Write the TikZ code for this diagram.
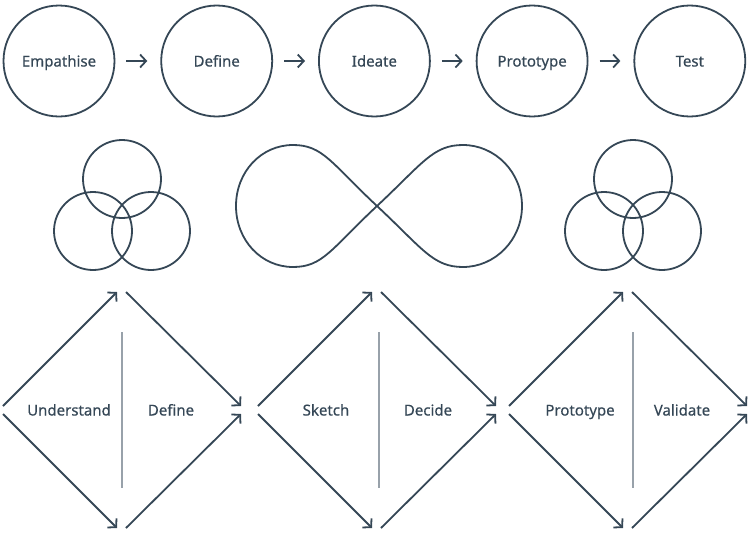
\documentclass[tikz,border=0pt]{standalone}
\usepackage{fontspec}
\setmainfont{Noto Sans}[FakeBold=0.4]
\usetikzlibrary{arrows.meta,positioning}
\definecolor{ink}{RGB}{53,71,86}
\definecolor{divider}{RGB}{152,161,170}
\tikzset{
    stage/.style={
           circle,
           draw=ink,
           line width=1.8pt,
           minimum size=111pt,
           inner sep=0pt,
           text=ink,
           text height=11pt,
           text depth=0pt,
           font=\fontsize{15}{18}\selectfont,
           },
    flow/.style={
           ->,
           draw=ink,
           line width=1.8pt,
           },
    outline/.style={
           draw=ink,
           line width=1.8pt,
           },
    phase/.style={
           text=ink,
           text height=11pt,
           text depth=0pt,
           inner sep=0pt,
           font=\fontsize{15}{18}\selectfont,
           },
}

\begin{document}
\begin{tikzpicture}[x=1pt,y=-1pt,>={Straight Barb[length=6pt,width=13pt]}]
\useasboundingbox (0,0) rectangle (750,533);
% five stages
\node[stage](empathise) at (59,61){Empathise};
\node[stage,right of=empathise,node distance=157.7pt](define){Define};
\node[stage,right of=define,node distance=157.7pt](ideate){Ideate};
\node[stage,right of=ideate,node distance=157.7pt](prototype){Prototype};
\node[stage,right of=prototype,node distance=157.7pt](test){Test};
\path (empathise) edge[flow,shorten <=11pt,shorten >=13pt] (define)
      (define) edge[flow,shorten <=11pt,shorten >=13pt] (ideate)
      (ideate) edge[flow,shorten <=11pt,shorten >=13pt] (prototype)
      (prototype) edge[flow,shorten <=11pt,shorten >=13pt] (test);
% venn triples
\foreach \vx in {122,633}{
  \draw[outline] (\vx,179) circle (39pt);
  \draw[outline] (\vx-29,231) circle (39pt);
  \draw[outline] (\vx+29,231) circle (39pt);
}
% infinity loop
\coordinate (mid) at (377,206);
\draw[outline] (mid) .. controls +(46,-43) and +(-30,0) .. (463,145)
      .. controls +(32,0) and +(0,-34) .. (522,206)
      .. controls +(0,34) and +(32,0) .. (463,267)
      .. controls +(-30,0) and +(46,43) .. (mid)
      .. controls +(-46,-43) and +(30,0) .. (293,145)
      .. controls +(-32,0) and +(0,-34) .. (236,206)
      .. controls +(0,34) and +(-32,0) .. (293,267)
      .. controls +(30,0) and +(-46,43) .. (mid);
% double diamonds
\foreach \cx/\vx/\a/\b [count=\i] in {122/122/Understand/Define,377/379/Sketch/Decide,628/633/Prototype/Validate}{
  \coordinate (left\i) at (\cx-120,410);
  \coordinate (top\i) at (\cx,292);
  \coordinate (right\i) at (\cx+120,410);
  \coordinate (bottom\i) at (\cx,528);
  \draw[flow] ([shift={(1,-4)}]left\i) -- ([xshift=-5pt]top\i);
  \draw[flow] ([xshift=4pt]top\i) -- ([shift={(-1,-4)}]right\i);
  \draw[flow] ([shift={(1,4)}]left\i) -- ([xshift=-5pt]bottom\i);
  \draw[flow] ([xshift=4pt]bottom\i) -- ([shift={(-1,4)}]right\i);
  \draw[divider,line width=1.5pt] (\vx,332) -- (\vx,488);
  \node[phase](first\i) at (\vx-53,410){\a};
  \node[phase](second\i) at (\vx+49,410){\b};
}
\end{tikzpicture}
\end{document}
